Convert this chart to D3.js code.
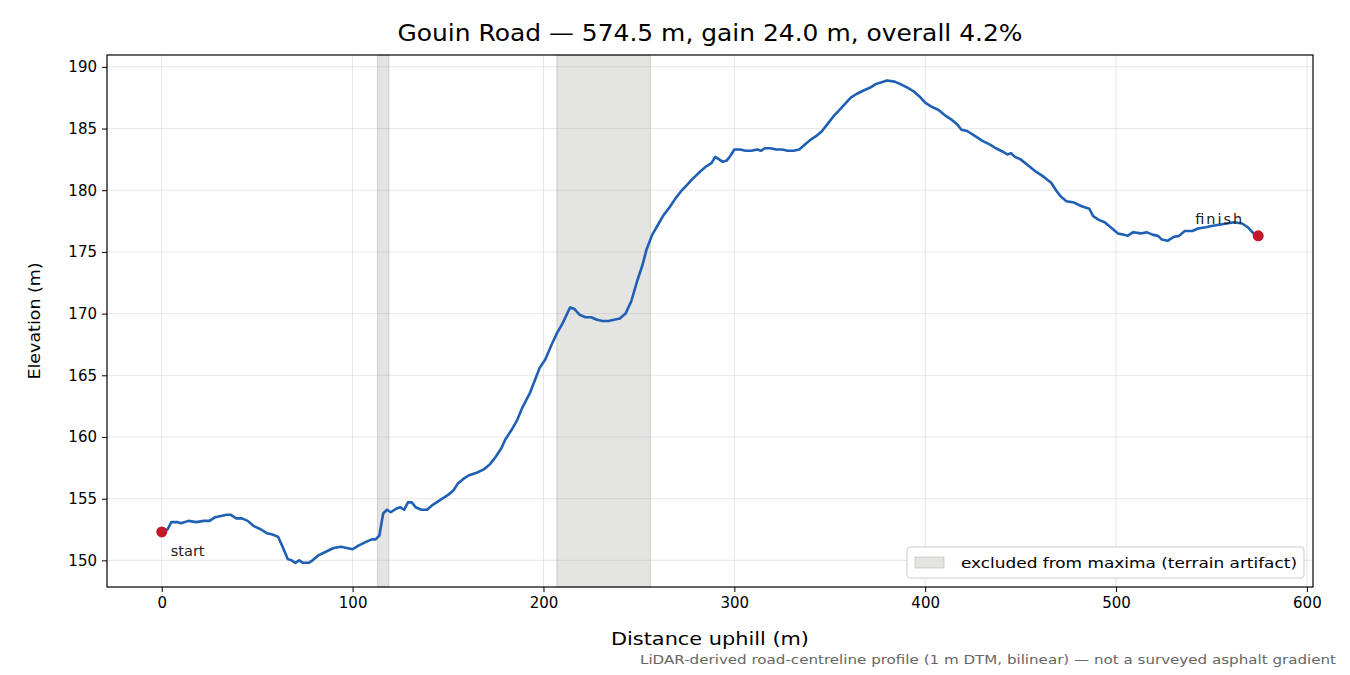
<!DOCTYPE html><html><head><meta charset="utf-8"><script src="https://cdn.jsdelivr.net/npm/d3@7"></script>
<style>body{margin:0;background:#fff}text{font-family:"DejaVu Sans",sans-serif}</style></head><body><svg id="c" width="1350" height="675"></svg><script>
const dist=[0,3,5,8,10,14,18,22,25,28,31,34,36,39,42,45,48,52,55,58,61,63,66,68,70,72,74,77,79,82,86,90,94,97,100,103,107,110,112,114,116,118,120,123,125,127,129,131,133,136,139,142,146,150,153,155,158,161,165,169,172,175,178,180,183,186,189,193,196,198,201,204,207,210,213,214,216,219,222,225,228,231,234,237,240,243,246,249,252,254,257,260,263,266,269,272,275,278,282,285,288,290,292,294,296,298,300,303,306,309,312,314,316,319,322,325,328,331,334,337,340,343,346,349,352,355,358,361,364,368,371,374,378,380,384,387,391,394,397,400,403,407,411,414,417,419,422,426,430,434,437,441,443,445,447,450,454,458,462,466,469,471,474,478,482,486,488,491,494,498,501,504,506,509,513,516,519,522,524,527,530,533,536,540,543,547,550,554,558,562,566,569,572,574.5];
const elev=[152.3,152.5,153.1,153.1,153.0,153.2,153.1,153.2,153.2,153.5,153.6,153.7,153.7,153.4,153.4,153.2,152.8,152.5,152.2,152.1,151.9,151.2,150.1,150.0,149.8,150.0,149.8,149.8,150.0,150.4,150.7,151.0,151.1,151.0,150.9,151.2,151.5,151.7,151.7,152.0,153.8,154.1,153.9,154.2,154.3,154.1,154.7,154.7,154.3,154.1,154.1,154.5,154.9,155.3,155.7,156.2,156.6,156.9,157.1,157.4,157.8,158.4,159.1,159.8,160.5,161.3,162.4,163.6,164.8,165.6,166.3,167.4,168.4,169.2,170.2,170.5,170.4,169.9,169.7,169.7,169.5,169.4,169.4,169.5,169.6,170.0,171.0,172.6,174.0,175.2,176.4,177.2,178.0,178.6,179.3,179.9,180.4,180.9,181.5,181.9,182.2,182.7,182.5,182.3,182.4,182.8,183.3,183.3,183.2,183.2,183.3,183.2,183.4,183.4,183.3,183.3,183.2,183.2,183.3,183.7,184.1,184.4,184.8,185.4,186.0,186.5,187.0,187.5,187.8,188.1,188.3,188.6,188.8,188.9,188.8,188.6,188.3,188.0,187.6,187.1,186.8,186.5,186.0,185.7,185.3,184.9,184.8,184.4,184.0,183.7,183.4,183.1,182.9,183.0,182.7,182.5,182.0,181.5,181.1,180.6,179.9,179.5,179.1,179.0,178.7,178.5,177.9,177.6,177.4,176.9,176.5,176.4,176.3,176.6,176.5,176.6,176.4,176.3,176.0,175.9,176.2,176.3,176.7,176.7,176.9,177.0,177.1,177.2,177.3,177.4,177.3,177.0,176.5,176.3];
const excluded=[[113,119],[207,256]];
const xTicks=[0,100,200,300,400,500,600], yTicks=[150,155,160,165,170,175,180,185,190];
const svg=d3.select("#c");
const L=107,R=1313,T=55,B=587;
const x=d3.scaleLinear().domain([-28.7,603.2]).range([L,R]);
const y=d3.scaleLinear().domain([147.84,190.96]).range([B,T]);
svg.append("text").attr("x",(L+R)/2).attr("y",41).attr("text-anchor","middle").attr("font-size",22.5).attr("textLength",625).attr("lengthAdjust","spacingAndGlyphs").text("Gouin Road — 574.5 m, gain 24.0 m, overall 4.2%");
svg.selectAll(".gx").data(xTicks).join("line").attr("x1",d=>x(d)).attr("x2",d=>x(d)).attr("y1",T).attr("y2",B).attr("stroke","#b0b0b0").attr("stroke-opacity",0.3);
svg.selectAll(".gy").data(yTicks).join("line").attr("y1",d=>y(d)).attr("y2",d=>y(d)).attr("x1",L).attr("x2",R).attr("stroke","#b0b0b0").attr("stroke-opacity",0.3);
svg.selectAll(".ex").data(excluded).join("rect").attr("x",d=>x(d[0])).attr("width",d=>x(d[1])-x(d[0])).attr("y",T).attr("height",B-T).attr("fill","#9e9e96").attr("fill-opacity",0.28).attr("stroke","#9e9e96").attr("stroke-opacity",0.4);
const pts=dist.map((d,i)=>[d,elev[i]]);
svg.append("path").attr("d",d3.line().x(d=>x(d[0])).y(d=>y(d[1]))(pts)).attr("fill","none").attr("stroke","#1f5fb4").attr("stroke-width",2.6).attr("stroke-linejoin","round");
[[0],[pts.length-1]].forEach(([i])=>svg.append("circle").attr("cx",x(pts[i][0])).attr("cy",y(pts[i][1])).attr("r",5.5).attr("fill","#c0192a"));
svg.append("text").attr("x",x(0)+9).attr("y",y(pts[0][1])+24).attr("font-size",14.5).attr("fill","#222").text("start");
svg.append("text").attr("x",x(574.5)-16).attr("y",y(pts[pts.length-1][1])-12).attr("text-anchor","end").attr("font-size",14.5).attr("textLength",47).attr("fill","#222").text("finish");
svg.append("g").attr("transform",`translate(0,${B})`).call(d3.axisBottom(x).tickValues(xTicks).tickSize(5).tickPadding(5)).call(g=>{g.selectAll("text").attr("font-size",15).attr("fill","#000");g.select(".domain").remove();});
svg.append("g").attr("transform",`translate(${L},0)`).call(d3.axisLeft(y).tickValues(yTicks).tickSize(5).tickPadding(5)).call(g=>{g.selectAll("text").attr("font-size",15).attr("fill","#000");g.select(".domain").remove();});
svg.append("rect").attr("x",L).attr("y",T).attr("width",R-L).attr("height",B-T).attr("fill","none").attr("stroke","#000").attr("stroke-width",1.2);
svg.append("text").attr("x",(L+R)/2).attr("y",645).attr("text-anchor","middle").attr("font-size",17).attr("textLength",198).attr("lengthAdjust","spacingAndGlyphs").text("Distance uphill (m)");
svg.append("text").attr("transform",`translate(40,${(T+B)/2}) rotate(-90)`).attr("text-anchor","middle").attr("font-size",16.5).attr("textLength",117).attr("lengthAdjust","spacingAndGlyphs").text("Elevation (m)");
const lg=svg.append("g");
lg.append("rect").attr("x",907).attr("y",547).attr("width",397).attr("height",31).attr("rx",3).attr("fill","#fff").attr("fill-opacity",0.85).attr("stroke","#ccc");
lg.append("rect").attr("x",915).attr("y",557).attr("width",29).attr("height",11).attr("fill","#9e9e96").attr("fill-opacity",0.28).attr("stroke","#9e9e96").attr("stroke-opacity",0.4);
lg.append("text").attr("x",961).attr("y",567.5).attr("font-size",14.5).attr("textLength",336).attr("lengthAdjust","spacingAndGlyphs").text("excluded from maxima (terrain artifact)");
svg.append("text").attr("x",1336).attr("y",664).attr("text-anchor","end").attr("font-size",13).attr("textLength",696).attr("lengthAdjust","spacingAndGlyphs").attr("fill","#666").text("LiDAR-derived road-centreline profile (1 m DTM, bilinear) — not a surveyed asphalt gradient");
</script></body></html>
